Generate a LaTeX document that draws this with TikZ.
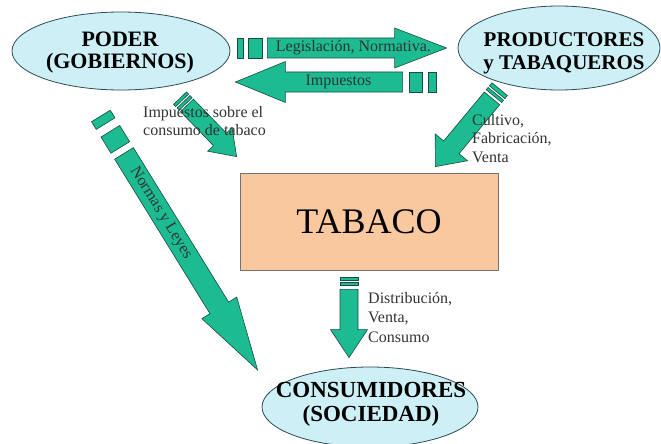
\documentclass[tikz,border=0pt]{standalone}
\usepackage{fontspec}
\setmainfont{Liberation Serif}
\usetikzlibrary{calc,shapes.geometric}

\definecolor{verde}{RGB}{29,187,146}
\definecolor{verdeosc}{RGB}{25,75,62}
\definecolor{celeste}{RGB}{205,240,247}
\definecolor{bordecel}{RGB}{45,75,85}
\definecolor{durazno}{RGB}{250,200,158}

\tikzset{
    elipse/.style={ellipse, draw=bordecel, fill=celeste, line width=.8pt, inner sep=0pt},
    titulo/.style={font=\bfseries\fontsize{22}{21.5}\selectfont, align=center, inner sep=0pt},
    caja/.style={draw=black!55, fill=durazno, line width=.8pt, minimum width=258pt, minimum height=97pt,
        font=\fontsize{36}{40}\selectfont},
    flecha/.style={fill=verde, draw=verdeosc, line width=.6pt, line join=miter},
    rotulo/.style={font=\fontsize{16}{18.5}\selectfont, align=left, inner sep=0pt, text=black!80},
}

\begin{document}
\begin{tikzpicture}[x=1pt, y=-1pt]
    % cola, punta, medio ancho, medio ancho de la punta, largo de la punta
    \def\flecha#1#2#3#4#5{
        \coordinate (hb) at ($(#2)!#5!(#1)$);
        \draw[flecha] ($(#1)!#3!90:(#2)$) -- ($(hb)!#3!90:(#2)$) -- ($(hb)!#4!90:(#2)$) -- (#2)
            -- ($(hb)!#4!-90:(#2)$) -- ($(hb)!#3!-90:(#2)$) -- ($(#1)!#3!-90:(#2)$) -- cycle;
    }
    % franja detras de la cola
    \def\franja#1#2#3#4#5{
        \coordinate (f1) at ($(#1)!#3!180:(#2)$);
        \coordinate (f2) at ($(#1)!#4!180:(#2)$);
        \draw[flecha] ($(f1)!#5!90:(#2)$) -- ($(f2)!#5!90:(#2)$) -- ($(f2)!#5!-90:(#2)$)
            -- ($(f1)!#5!-90:(#2)$) -- cycle;
    }

    \useasboundingbox (0,0) rectangle (661,444);

    \node[elipse, minimum width=218pt, minimum height=78pt] (poder) at (121,51) {};
    \node[elipse, minimum width=202pt, minimum height=84pt] (prod) at (559,48) {};
    \node[elipse, minimum width=216pt, minimum height=80pt] (cons) at (370,407) {};
    \node[caja] (tabaco) at (369,221.5) {TABACO};

    \node[titulo] (poder-t) at (120,52.5) {PODER\\(GOBIERNOS)};
    \node[titulo, font=\bfseries\fontsize{21}{23}\selectfont] (prod-t) at (564,53.5) {PRODUCTORES\\y TABAQUEROS};
    \node[titulo, font=\bfseries\fontsize{23}{24}\selectfont] (cons-t) at (371,404.5) {CONSUMIDORES\\(SOCIEDAD)};

    \coordinate (t1) at ($(poder.east)+(37,-3)$);
    \coordinate (p1) at ($(prod.west)+(-11,0)$);
    \coordinate (t2) at ($(prod.west)+(-55,34)$);
    \coordinate (p2) at ($(poder.east)+(5,31)$);
    \coordinate (t3) at ($(poder.south)+(66,15)$);
    \coordinate (p3) at ($(tabaco.north west)+(-3,-16)$);
    \coordinate (t4) at ($(poder.south)+(3,63)$);
    \coordinate (p4) at ($(cons.west)+(-4,-37)$);
    \coordinate (t5) at ($(prod.south)+(-67,8)$);
    \coordinate (p5) at ($(tabaco.north east)+(-63,-6)$);
    \coordinate (t6) at ($(tabaco.south)+(-20,19)$);
    \coordinate (p6) at ($(cons.north)+(-21,-9)$);

    % Legislacion
    \flecha{t1}{p1}{10pt}{20pt}{52pt}
    \franja{t1}{p1}{5pt}{19pt}{10pt}
    \franja{t1}{p1}{24pt}{30pt}{10pt}
    % Impuestos
    \flecha{t2}{p2}{10pt}{20.5pt}{50pt}
    \franja{t2}{p2}{7pt}{20pt}{10pt}
    \franja{t2}{p2}{26pt}{34pt}{10pt}
    % Impuestos sobre el consumo
    \flecha{t3}{p3}{9pt}{17pt}{24pt}
    \franja{t3}{p3}{2pt}{5pt}{9pt}
    \franja{t3}{p3}{7pt}{10pt}{9pt}
    % Normas y Leyes
    \flecha{t4}{p4}{11pt}{20.5pt}{73pt}
    \franja{t4}{p4}{7pt}{26pt}{11pt}
    \franja{t4}{p4}{35pt}{44pt}{11pt}
    % Cultivo
    \flecha{t5}{p5}{10pt}{21pt}{25pt}
    \franja{t5}{p5}{3pt}{6pt}{10pt}
    \franja{t5}{p5}{8pt}{12pt}{10pt}
    % Distribucion
    \flecha{t6}{p6}{9pt}{18.5pt}{28pt}
    \franja{t6}{p6}{4pt}{7pt}{9pt}
    \franja{t6}{p6}{9pt}{12pt}{9pt}

    \path (t1) -- (p1) node[rotulo, pos=.48] (leg) {Legislación, Normativa.};
    \path (t2) -- (p2) node[rotulo, pos=.384] (imp) {Impuestos};
    \path (t4) -- (p4) node[rotulo, pos=.275, sloped] (normas) {Normas y Leyes};

    \node[rotulo, anchor=north west] (imp-t) at (143,106) {Impuestos sobre el\\consumo de tabaco};
    \node[rotulo, anchor=north west] (cult-t) at (472,114) {Cultivo,\\Fabricación,\\Venta};
    \node[rotulo, anchor=north west, font=\fontsize{16}{19.5}\selectfont] (dist-t) at (368,292) {Distribución,\\Venta,\\Consumo};
\end{tikzpicture}
\end{document}
